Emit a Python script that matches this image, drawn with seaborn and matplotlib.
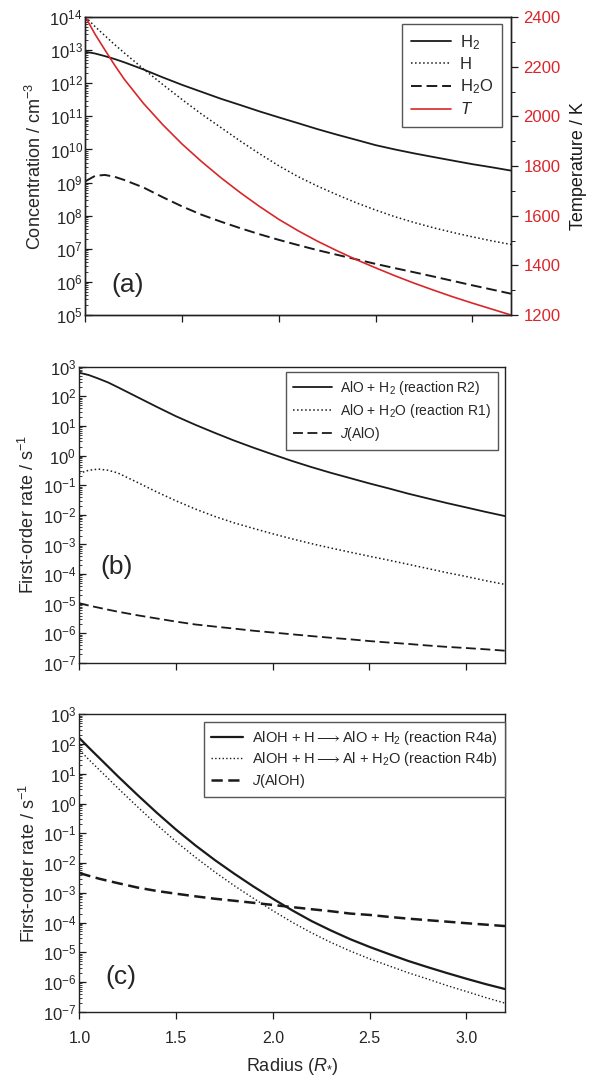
import numpy as np
import pandas as pd
import matplotlib
matplotlib.use("Agg")
import matplotlib.pyplot as plt
import seaborn as sns
from matplotlib.ticker import LogLocator, NullFormatter, MultipleLocator, LogFormatterSciNotation

# ---------------- data ----------------
radius = [1.0, 1.05, 1.1, 1.15, 1.2, 1.3, 1.4, 1.5, 1.6, 1.7, 1.8, 1.9, 2.0,
          2.1, 2.2, 2.3, 2.4, 2.5, 2.6, 2.7, 2.8, 2.9, 3.0, 3.1, 3.2]

# panel (a): concentrations / cm^-3 and temperature / K
conc_h2 = [8.9e12, 7.9e12, 6.6e12, 5.4e12, 4.3e12, 2.6e12, 1.5e12, 8.9e11, 5.5e11,
           3.4e11, 2.2e11, 1.41e11, 9.3e10, 6.2e10, 4.1e10, 2.8e10, 1.95e10, 1.35e10,
           1.0e10, 7.6e9, 5.9e9, 4.6e9, 3.6e9, 2.9e9, 2.3e9]
conc_h = [1.0e14, 5.1e13, 2.75e13, 1.48e13, 8.3e12, 2.7e12, 9.1e11, 3.2e11, 1.17e11,
          4.6e10, 1.8e10, 7.4e9, 3.2e9, 1.5e9, 7.8e8, 4.3e8, 2.45e8, 1.48e8, 9.3e7,
          6.2e7, 4.3e7, 3.1e7, 2.3e7, 1.74e7, 1.35e7]
conc_h2o = [1.1e9, 1.6e9, 1.7e9, 1.5e9, 1.2e9, 7.1e8, 3.6e8, 1.9e8, 1.07e8, 6.6e7,
            4.2e7, 2.75e7, 1.86e7, 1.29e7, 9.1e6, 6.6e6, 4.8e6, 3.5e6, 2.6e6, 1.95e6,
            1.45e6, 1.07e6, 7.9e5, 5.9e5, 4.4e5]
temperature = [2400, 2330, 2268, 2207, 2150, 2052, 1966, 1888, 1818, 1753, 1693,
               1637, 1585, 1539, 1497, 1459, 1423, 1390, 1358, 1328, 1300, 1273,
               1248, 1224, 1200]

# panel (b): first-order rates / s^-1
rate_alo_h2 = [631, 525, 398, 295, 204, 95.5, 44.7, 21.4, 11.0, 5.9, 3.24, 1.86, 1.1,
               0.66, 0.41, 0.263, 0.174, 0.115, 0.078, 0.052, 0.036, 0.025, 0.0178,
               0.0126, 0.0091]
rate_alo_h2o = [0.25, 0.32, 0.35, 0.32, 0.26, 0.126, 0.060, 0.030, 0.0158, 0.0089,
                0.0054, 0.0035, 0.0023, 0.00155, 0.00107, 7.6e-4, 5.5e-4, 4.0e-4,
                2.95e-4, 2.14e-4, 1.55e-4, 1.12e-4, 8.3e-5, 6.0e-5, 4.5e-5]
rate_j_alo = [1.05e-5, 8.7e-6, 7.4e-6, 6.3e-6, 5.4e-6, 4.1e-6, 3.2e-6, 2.5e-6,
              2.0e-6, 1.7e-6, 1.45e-6, 1.23e-6, 1.07e-6, 9.3e-7, 8.1e-7, 7.1e-7,
              6.3e-7, 5.5e-7, 4.9e-7, 4.4e-7, 3.9e-7, 3.5e-7, 3.2e-7, 2.9e-7, 2.6e-7]

# panel (c): first-order rates / s^-1
rate_r4a = [158, 74, 35.5, 17, 8.1, 1.95, 0.49, 0.132, 0.039, 0.0126, 0.0044,
            0.00162, 6.3e-4, 2.57e-4, 1.12e-4, 5.4e-5, 2.75e-5, 1.51e-5, 8.7e-6,
            5.1e-6, 3.16e-6, 2.0e-6, 1.29e-6, 8.5e-7, 5.8e-7]
rate_r4b = [63, 29.5, 14.1, 6.8, 3.24, 0.78, 0.195, 0.052, 0.0155, 0.005, 0.00174,
            6.5e-4, 2.5e-4, 1.02e-4, 4.5e-5, 2.14e-5, 1.1e-5, 6.0e-6, 3.5e-6,
            2.04e-6, 1.26e-6, 7.6e-7, 4.8e-7, 3.0e-7, 1.95e-7]
rate_j_aloh = [4.6e-3, 3.7e-3, 3.0e-3, 2.5e-3, 2.1e-3, 1.5e-3, 1.15e-3, 9.3e-4,
               7.6e-4, 6.3e-4, 5.4e-4, 4.6e-4, 3.9e-4, 3.3e-4, 2.8e-4, 2.4e-4,
               2.0e-4, 1.8e-4, 1.55e-4, 1.35e-4, 1.2e-4, 1.07e-4, 9.5e-5, 8.5e-5,
               7.6e-5]

labels_a = ["H$_2$", "H", "H$_2$O", r"$\mathit{T}$"]
labels_b = ["AlO + H$_2$ (reaction R2)", "AlO + H$_2$O (reaction R1)", r"$\mathit{J}$(AlO)"]
labels_c = [r"AlOH + H$\longrightarrow$AlO + H$_2$ (reaction R4a)",
            r"AlOH + H$\longrightarrow$Al + H$_2$O (reaction R4b)", r"$\mathit{J}$(AlOH)"]
x_ticks = [1.0, 1.5, 2.0, 2.5, 3.0]
x_tick_labels = ["1.0", "1.5", "2.0", "2.5", "3.0"]

# ---------------- style ----------------
sns.set_theme(style="ticks")
plt.rcParams["font.family"] = ["Liberation Sans", "DejaVu Sans"]
plt.rcParams["mathtext.fontset"] = "custom"
plt.rcParams["mathtext.rm"] = "Liberation Sans"
plt.rcParams["mathtext.it"] = "Liberation Sans:italic"
plt.rcParams["mathtext.default"] = "regular"
plt.rcParams["axes.edgecolor"] = "#222222"
plt.rcParams["axes.linewidth"] = 1.0

RED = "#d9262a"
BLK = "#1a1a1a"

fig = plt.figure(figsize=(5.9, 10.77), dpi=100)
ax_a = fig.add_axes([0.1449, 0.7075, 0.7212, 0.2767])
ax_b = fig.add_axes([0.1339, 0.3844, 0.7220, 0.2751])
ax_c = fig.add_axes([0.1347, 0.0606, 0.7212, 0.2761])


def style_log_axis(ax, ymin, ymax):
    ax.set_yscale("log")
    ax.set_xlim(1.0, 3.2)
    ax.set_ylim(ymin, ymax)
    ax.yaxis.set_major_locator(LogLocator(base=10, numticks=30))
    ax.yaxis.set_minor_locator(LogLocator(base=10, subs=np.arange(2, 10), numticks=30))
    ax.yaxis.set_minor_formatter(NullFormatter())
    ax.yaxis.set_major_formatter(LogFormatterSciNotation())
    ax.set_xticks(x_ticks)
    ax.tick_params(axis="y", which="major", direction="in", length=5, width=0.9,
                   labelsize=12, pad=2, color=BLK)
    ax.tick_params(axis="y", which="minor", direction="in", length=2.5, width=0.6, color=BLK)
    ax.tick_params(axis="x", which="major", direction="out", length=5, width=0.9,
                   labelsize=11.5, pad=9, color=BLK)
    for s in ax.spines.values():
        s.set_visible(True)
        s.set_color("#222222")


def line(ax, y, ls, lw, color=BLK, dashes=None):
    df = pd.DataFrame({"r": radius, "v": y})
    sns.lineplot(data=df, x="r", y="v", ax=ax, color=color, linewidth=lw,
                 linestyle=ls, estimator=None, sort=False, legend=False)
    ln = ax.lines[-1]
    if dashes is not None:
        ln.set_dashes(dashes)
    return ln


# ---------------- panel (a) ----------------
style_log_axis(ax_a, 1e5, 1e14)
l1 = line(ax_a, conc_h2, "-", 1.3)
l2 = line(ax_a, conc_h, ":", 1.1)
l3 = line(ax_a, conc_h2o, "--", 1.4, dashes=(5.5, 2.5))
ax_a2 = ax_a.twinx()
l4 = line(ax_a2, temperature, "-", 1.2, color=RED)
ax_a2.set_ylim(1200, 2400)
ax_a2.set_xlim(1.0, 3.2)
ax_a2.yaxis.set_major_locator(MultipleLocator(200))
ax_a2.yaxis.set_minor_locator(MultipleLocator(100))
ax_a2.tick_params(axis="y", which="major", direction="out", length=5, width=0.9,
                  labelsize=12, labelcolor=RED, color=BLK, pad=4)
ax_a2.tick_params(axis="y", which="minor", direction="out", length=3, width=0.7, color=BLK)
ax_a2.set_ylabel("Temperature / K", fontsize=13, labelpad=7, color=BLK)
ax_a2.set_xlabel("")
ax_a.set_xlabel("")
ax_a.set_xticklabels([])
ax_a.set_ylabel("Concentration / cm$^{-3}$", fontsize=13, labelpad=3)
ax_a.text(0.06, 0.10, "(a)", transform=ax_a.transAxes, fontsize=19, va="center", ha="left")
leg_a = ax_a2.legend([l1, l2, l3, l4], labels_a, loc="upper right",
                     bbox_to_anchor=(0.979, 0.977), borderaxespad=0, fontsize=12,
                     handlelength=2.4, labelspacing=0.32, handletextpad=0.5,
                     borderpad=0.55, fancybox=False, framealpha=1, edgecolor="#555555")
leg_a.get_frame().set_linewidth(1.0)

# ---------------- panel (b) ----------------
style_log_axis(ax_b, 1e-7, 1e3)
m1 = line(ax_b, rate_alo_h2, "-", 1.3)
m2 = line(ax_b, rate_alo_h2o, ":", 1.1)
m3 = line(ax_b, rate_j_alo, "--", 1.3, dashes=(5.5, 2.5))
ax_b.set_xlabel("")
ax_b.set_xticklabels([])
ax_b.set_ylabel("First-order rate / s$^{-1}$", fontsize=13, labelpad=3)
ax_b.text(0.05, 0.324, "(b)", transform=ax_b.transAxes, fontsize=19, va="center", ha="left")
leg_b = ax_b.legend([m1, m2, m3], labels_b, loc="upper right",
                    bbox_to_anchor=(0.984, 0.982), borderaxespad=0, fontsize=10,
                    handlelength=2.8, labelspacing=0.35, handletextpad=0.6,
                    borderpad=0.5, fancybox=False, framealpha=1, edgecolor="#555555")
leg_b.get_frame().set_linewidth(1.0)

# ---------------- panel (c) ----------------
style_log_axis(ax_c, 1e-7, 1e3)
n1 = line(ax_c, rate_r4a, "-", 1.6)
n2 = line(ax_c, rate_r4b, ":", 1.0)
n3 = line(ax_c, rate_j_aloh, "--", 1.8, dashes=(4.5, 2.2))
ax_c.set_xticklabels(x_tick_labels)
ax_c.set_xlabel(r"Radius ($\mathit{R}_{*}$)", fontsize=13, labelpad=7)
ax_c.set_ylabel("First-order rate / s$^{-1}$", fontsize=13, labelpad=3)
ax_c.text(0.06, 0.118, "(c)", transform=ax_c.transAxes, fontsize=19, va="center", ha="left")
leg_c = ax_c.legend([n1, n2, n3], labels_c, loc="upper right",
                    bbox_to_anchor=(1.0, 0.976), borderaxespad=0, fontsize=10.5,
                    handlelength=2.2, labelspacing=0.25, handletextpad=0.6,
                    borderpad=0.5, fancybox=False, framealpha=1, edgecolor="#555555")
leg_c.get_frame().set_linewidth(1.0)

fig.savefig("out.png", dpi=100, facecolor="white")
